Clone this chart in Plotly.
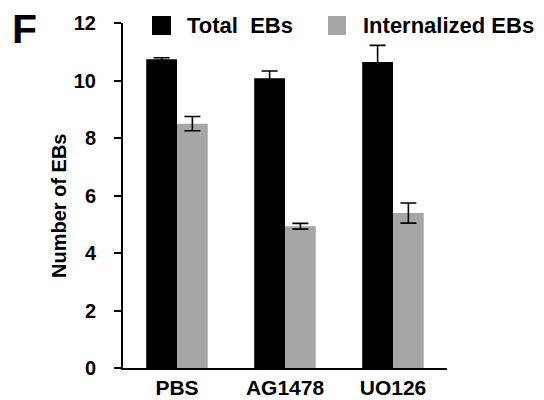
import plotly.graph_objects as go

categories = ["PBS", "AG1478", "UO126"]
total_ebs = [10.74, 10.08, 10.64]
total_err = [0.05, 0.25, 0.58]
internal_ebs = [8.50, 4.93, 5.39]
internal_err = [0.25, 0.10, 0.35]
y_ticks = [0, 2, 4, 6, 8, 10, 12]

FONT = "Liberation Sans, Arial, sans-serif"
BLACK = "#000000"
GRAY = "#a6a6a6"

# plot area in pixels
L, R, T, B = 123, 447, 23, 368
W, H = 544, 400

def px(x):
    return (x - L) / (R - L)

def py(y):
    return (B - y) / (B - T)

fig = go.Figure()
fig.add_trace(go.Bar(
    x=categories, y=total_ebs, name="Total  EBs",
    marker=dict(color=BLACK, line=dict(width=0)),
    error_y=dict(type="data", array=total_err, color=BLACK, thickness=1.6, width=8),
    showlegend=False,
))
fig.add_trace(go.Bar(
    x=categories, y=internal_ebs, name="Internalized EBs",
    marker=dict(color=GRAY, line=dict(width=0)),
    error_y=dict(type="data", array=internal_err, color=BLACK, thickness=1.6, width=8),
    showlegend=False,
))

shapes = [
    dict(type="rect", xref="paper", yref="paper", x0=px(152), x1=px(171), y0=py(35), y1=py(16),
         fillcolor=BLACK, line=dict(width=0)),
    dict(type="rect", xref="paper", yref="paper", x0=px(328), x1=px(346), y0=py(35), y1=py(16),
         fillcolor=GRAY, line=dict(width=0)),
]
annotations = [
    dict(text="Total\u00a0\u00a0EBs", xref="paper", yref="paper", x=px(185), y=py(26),
         xanchor="left", yanchor="middle", showarrow=False,
         font=dict(family=FONT, size=22, color=BLACK, weight="bold")),
    dict(text="Internalized EBs", xref="paper", yref="paper", x=px(361), y=py(26),
         xanchor="left", yanchor="middle", showarrow=False,
         font=dict(family=FONT, size=22, color=BLACK, weight="bold")),
    dict(text="F", xref="paper", yref="paper", x=px(10), y=py(4),
         xanchor="left", yanchor="top", showarrow=False,
         font=dict(family=FONT, size=41, color=BLACK, weight="bold")),
    dict(text="Number of EBs", xref="paper", yref="paper", x=px(59), y=py(206),
         xanchor="center", yanchor="middle", showarrow=False, textangle=-90,
         font=dict(family=FONT, size=20, color=BLACK, weight="bold")),
]

fig.update_layout(
    width=W, height=H,
    margin=dict(l=L, r=W - R, t=T, b=H - B, pad=0),
    paper_bgcolor="white", plot_bgcolor="white",
    barmode="group", bargap=0.43, bargroupgap=0,
    font=dict(family=FONT, color=BLACK),
    shapes=shapes, annotations=annotations,
    xaxis=dict(
        range=[-0.5, 2.5], showline=True, linecolor=BLACK, linewidth=2,
        ticks="", showgrid=False, zeroline=False, automargin=False,
        tickfont=dict(family=FONT, size=21, color=BLACK, weight="bold"),
        ticklabelstandoff=0,
    ),
    yaxis=dict(
        range=[0, 12], tickvals=y_ticks, showline=True, linecolor=BLACK, linewidth=2,
        ticks="outside", ticklen=7, tickwidth=2, tickcolor=BLACK,
        showgrid=False, zeroline=False, automargin=False,
        tickfont=dict(family=FONT, size=20, color=BLACK, weight="bold"),
        ticklabelstandoff=14,
    ),
)

fig.write_html("out.html", config={"displayModeBar": False},
               post_script="document.body.style.margin='0';")
